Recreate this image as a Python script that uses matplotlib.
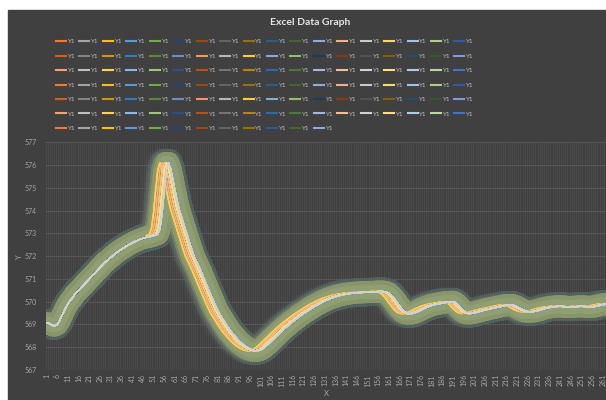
import colorsys
import numpy as np
import matplotlib.pyplot as plt
import matplotlib.colors as mcolors
from matplotlib.lines import Line2D
from matplotlib.patches import Rectangle

TITLE = "Excel Data Graph"
SERIES_NAME = "Y1"

# shared reading of all traces, one value per category 1..262
Y_BASE = [
    569.05, 569.05, 569.0, 568.95, 568.95, 569.0, 569.15, 569.35, 569.55, 569.75,
    569.9, 570.05, 570.15, 570.3, 570.4, 570.5, 570.6, 570.7, 570.8, 570.9,
    571.0, 571.1, 571.2, 571.3, 571.4, 571.5, 571.6, 571.7, 571.78, 571.86,
    571.94, 572.02, 572.1, 572.17, 572.24, 572.3, 572.36, 572.42, 572.48, 572.53,
    572.58, 572.63, 572.67, 572.71, 572.75, 572.78, 572.81, 572.84, 572.87, 572.9,
    572.93, 572.96, 573.2, 573.9, 574.9, 575.8, 576.1, 575.85, 575.4, 574.9,
    574.45, 574.05, 573.75, 573.45, 573.15, 572.85, 572.55, 572.25, 571.98, 571.78,
    571.58, 571.38, 571.15, 570.92, 570.7, 570.47, 570.25, 570.03, 569.82, 569.62,
    569.45, 569.3, 569.15, 569.0, 568.86, 568.72, 568.6, 568.49, 568.38, 568.28,
    568.19, 568.11, 568.04, 567.98, 567.93, 567.89, 567.86, 567.84, 567.85, 567.88,
    567.93, 568.0, 568.08, 568.17, 568.26, 568.35, 568.44, 568.53, 568.62, 568.71,
    568.8, 568.88, 568.96, 569.04, 569.12, 569.19, 569.26, 569.33, 569.4, 569.47,
    569.53, 569.59, 569.65, 569.71, 569.77, 569.83, 569.88, 569.93, 569.98, 570.03,
    570.07, 570.11, 570.15, 570.18, 570.21, 570.24, 570.27, 570.29, 570.31, 570.33,
    570.35, 570.36, 570.37, 570.38, 570.39, 570.4, 570.4, 570.41, 570.41, 570.42,
    570.42, 570.42, 570.43, 570.43, 570.44, 570.45, 570.45, 570.44, 570.42, 570.38,
    570.3, 570.2, 570.08, 569.95, 569.82, 569.7, 569.6, 569.53, 569.49, 569.47,
    569.48, 569.5, 569.54, 569.58, 569.63, 569.68, 569.72, 569.76, 569.8, 569.83,
    569.86, 569.88, 569.9, 569.92, 569.93, 569.95, 569.97, 569.98, 569.99, 570.0,
    569.97, 569.9, 569.8, 569.7, 569.61, 569.54, 569.5, 569.48, 569.49, 569.51,
    569.53, 569.56, 569.58, 569.61, 569.63, 569.66, 569.68, 569.7, 569.72, 569.74,
    569.76, 569.78, 569.8, 569.82, 569.84, 569.85, 569.86, 569.85, 569.82, 569.78,
    569.73, 569.68, 569.63, 569.6, 569.57, 569.56, 569.56, 569.57, 569.59, 569.61,
    569.64, 569.67, 569.7, 569.72, 569.74, 569.76, 569.77, 569.78, 569.79, 569.8,
    569.8, 569.79, 569.78, 569.77, 569.76, 569.76, 569.77, 569.78, 569.79, 569.8,
    569.8, 569.79, 569.78, 569.77, 569.77, 569.78, 569.8, 569.82, 569.84, 569.86,
    569.88, 569.9,
]

# how many categories each series lags the shared reading after the spike starts
SERIES_LAGS = [
    -1, 1, -3, 1, 0, 1, 0, 1, -1, 1, 0, 1, -2, 1, 0, 1, 0, 1,
    0, 0, 0, 1, 0, 1, -1, 0, 0, 1, 0, 1, 0, 0, 0, 1, 0, 0,
    -2, 1, -3, 1, 0, 1, 0, 1, -1, 0, 1, 1, -1, 1, 0, 1, 0, 1,
    0, 0, 0, 1, 0, 1, -1, 1, 0, 1, 0, 1, 0, 1, 0, 1, 1, 0,
    -1, 1, 0, 1, 0, 1, 0, 0, -1, 1, 0, 1, -2, 1, 0, 1, 0, 1,
    0, 0, -3, 1, 0, 1, -1, 1, 0, 1, 0, 1, 0, 1, 0, 1, 0, 1,
    -1, 1, 0, 1, 0, 1, 0, 1, -1, 1, 0, 1,
]
ONSET = 47

Y_TICKS = list(range(567, 578))
X_TICKS = list(range(1, 263, 5))

ACCENTS = ["#4472C4", "#ED7D31", "#A5A5A5", "#FFC000", "#5B9BD5", "#70AD47"]
SHADES = [(1, 0), (0.6, 0), (0.6, 0.4), (0.8, 0), (0.8, 0.2), (0.5, 0),
          (0.7, 0.3), (0.7, 0), (0.5, 0.5)]


def office_color(k):
    r, g, b = mcolors.to_rgb(ACCENTS[(k - 1) % 6])
    mod, off = SHADES[((k - 1) // 6) % len(SHADES)]
    h, l, s = colorsys.rgb_to_hls(r, g, b)
    return colorsys.hls_to_rgb(h, min(1.0, l * mod + off), s)


base = np.array(Y_BASE)
x = np.arange(1, len(base) + 1)
idx = np.arange(len(base))


def lagged(lag):
    src = np.where(idx < ONSET, idx, np.clip(idx - lag, ONSET, len(base) - 1))
    return base[src]


plt.rcParams['font.family'] = ['Lato', 'DejaVu Sans']
BG = "#404040"
TXT = "#a6a6a6"

fig = plt.figure(figsize=(6.06, 4.0), dpi=100, facecolor="white")
fig.add_artist(Rectangle((8 / 606, 0), 1 - 8 / 606, 1 - 10 / 400,
                         transform=fig.transFigure, color=BG, zorder=0))

ax = fig.add_axes([45.5 / 606, 30 / 400, 560.5 / 606, 227.7 / 400])
ax.set_facecolor(BG)
for s in ax.spines.values():
    s.set_visible(False)

colors = [office_color(k) for k in range(2, 2 + len(SERIES_LAGS))]

# soft glow round every series
haze = "#a2ad82"
for lag in SERIES_LAGS:
    y = lagged(lag)
    ax.plot(x, y, color="#8ea19c", lw=21, alpha=0.015, solid_capstyle="round", zorder=2)
    ax.plot(x, y, color=haze, lw=16, alpha=0.04, solid_capstyle="round", zorder=2)
    ax.plot(x, y, color=haze, lw=10, alpha=0.07, solid_capstyle="round", zorder=2)

# leading series go underneath, pale ones end up on top
draw = sorted(range(len(colors)), key=lambda i: (SERIES_LAGS[i] >= 0, sum(colors[i])))
for i in draw:
    ax.plot(x, lagged(SERIES_LAGS[i]), color=colors[i], lw=1.0, zorder=3)

ax.set_xlim(0.5, len(base) + 0.5)
ax.set_ylim(567, 577)
ax.set_yticks(Y_TICKS)
ax.set_xticks(X_TICKS)
ax.set_xticklabels([str(v) for v in X_TICKS], rotation=90)
ax.set_xticks(np.arange(0.5, len(base) + 1), minor=True)
ax.tick_params(axis="both", which="both", length=0, colors=TXT, labelsize=5)
ax.tick_params(axis="y", pad=6)
ax.tick_params(axis="x", pad=3)
ax.grid(True, which="minor", axis="x", color="#4f4f4f", lw=0.5)
ax.grid(True, which="major", axis="y", color="#585858", lw=0.7)
ax.set_axisbelow(True)

fig.text(310 / 606, 1 - 22.5 / 400, TITLE, ha="center", va="center",
         color="#e6e6e6", fontsize=7.5, fontweight="bold")
fig.text(20 / 606, 1 - 257 / 400, "Y", rotation=90, ha="center", va="center",
         color=TXT, fontsize=5.5)
fig.text(326 / 606, 1 - 394 / 400, "X", ha="center", va="center",
         color=TXT, fontsize=5.5)

# row-major legend laid out column by column
ncol = 18
handles = [Line2D([], [], color=c, lw=1.5) for c in colors]
order = []
for col in range(ncol):
    order += list(range(col, len(handles), ncol))
fig.legend([handles[i] for i in order], [SERIES_NAME] * len(order),
           loc="upper left", bbox_to_anchor=(56 / 606, 1 - 39 / 400),
           ncol=ncol, frameon=False, fontsize=4.5, labelcolor="#bfbfbf",
           handlelength=1.6, handletextpad=0.15, columnspacing=0.8,
           labelspacing=1.45, borderpad=0, borderaxespad=0)

fig.savefig("out.png", dpi=100, facecolor=fig.get_facecolor())
